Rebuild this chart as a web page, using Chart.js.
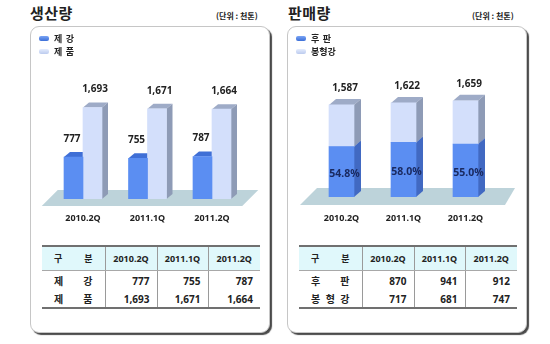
<!DOCTYPE html>
<html>
<head>
<meta charset="utf-8">
<script src="https://cdn.jsdelivr.net/npm/chart.js@4.4.0/dist/chart.umd.min.js"></script>
<style>
  body { margin:0; width:550px; height:344px; background:#fff; position:relative; overflow:hidden;
         font-family:"Noto Sans CJK KR","Noto Sans",sans-serif; color:#222; }
  .title { position:absolute; top:4px; font-size:15px; font-weight:700; line-height:18px; letter-spacing:0.5px; }
  .unit { position:absolute; top:11px; font-size:8px; font-weight:700; line-height:10px; }
  .box { position:absolute; top:26px; width:238px; height:305px; border:1px solid #c6c6c6; border-radius:9px;
         box-shadow:2px 2px 1px #4a4a4a; background:#fff; }
  canvas { position:absolute; top:26px; }
  .legend { position:absolute; top:32px; font-size:9px; font-weight:700; line-height:13px; }
  .legend div { display:flex; align-items:center; height:13px; }
  .sw { width:10px; height:5px; border-radius:2px; margin-right:5px; }
  .lab { display:inline-flex; justify-content:space-between; width:20px; }
  table { position:absolute; top:245px; border-collapse:collapse; table-layout:fixed; }
  td { padding:0; font-size:10px; font-weight:700; border-left:1px solid #9a9a9a; }
  td:first-child { border-left:none; }
  tr.head td { background:#e0f8fb; height:23px; text-align:center; font-size:9px;
               border-top:2px solid #707070; border-bottom:1px solid #a8a8a8; }
  tr.r1 td { height:19px; }
  tr.r2 td { height:17px; border-bottom:2px solid #707070; }
  td.num { text-align:right; padding-right:7px; font-family:"Noto Sans",sans-serif; }
  td.hdr { font-family:"Noto Sans",sans-serif; }
  .dist { display:flex; justify-content:space-between; padding:0 12px 0 12px; }
</style>
</head>
<body>
<div class="title" style="left:30px;">생산량</div>
<div class="unit" style="left:216px;">(단위 : 천톤)</div>
<div class="title" style="left:288px;">판매량</div>
<div class="unit" style="left:472px;">(단위 : 천톤)</div>

<div class="box" style="left:30px;"></div>
<div class="box" style="left:287px;"></div>

<canvas id="prod" width="240" height="210" style="left:30px;"></canvas>
<canvas id="sales" width="241" height="210" style="left:287px;"></canvas>

<div class="legend" id="prodLegend" style="left:39px;"></div>
<div class="legend" id="salesLegend" style="left:296px;"></div>

<table id="prodTable" style="left:42px; width:218px;"></table>
<table id="salesTable" style="left:299px; width:218px;"></table>

<script>
// Quarterly figures, thousand tons
const categories = ['2010.2Q', '2011.1Q', '2011.2Q'];
const steelMaking = [777, 755, 787];     // 제강
const products = [1693, 1671, 1664];     // 제품
const heavyPlate = [870, 941, 912];      // 후판
const sections = [717, 681, 747];        // 봉형강
const prodSeriesNames = ['제 강', '제 품'];
const salesSeriesNames = ['후 판', '봉형강'];

const darkBlue = { front: '#5b8ef2', top: '#3f6fd6', side: '#4169c2' };
const paleBlue = { front: '#d3dffb', top: '#9eabc7', side: '#8e9bb6' };

const fmt = v => v.toLocaleString('en-US');

// Draws floor, top faces and side faces behind the library's front faces
const bar3d = {
  id: 'bar3d',
  beforeDatasetsDraw(chart, args, opts) {
    const ctx = chart.ctx, a = chart.chartArea, f = opts.floor;
    const dx = opts.dx, dy = opts.dy;
    ctx.save();
    ctx.fillStyle = opts.floorColor;
    ctx.beginPath();
    ctx.moveTo(a.left + f.frontLeft, a.bottom + f.front);
    ctx.lineTo(a.left + f.backLeft, a.bottom - f.back);
    ctx.lineTo(a.right + f.backRight, a.bottom - f.back);
    ctx.lineTo(a.right + f.frontRight, a.bottom + f.front);
    ctx.closePath();
    ctx.fill();
    const sets = chart.data.datasets.map((ds, i) => ({ ds, els: chart.getDatasetMeta(i).data }));
    sets.forEach(({ ds, els }) => els.forEach(el => {
      const p = el.getProps(['x', 'y', 'width'], true);
      const l = p.x - p.width / 2, r = p.x + p.width / 2;
      ctx.fillStyle = ds.topColor;
      ctx.beginPath();
      ctx.moveTo(l, p.y); ctx.lineTo(l + dx, p.y - dy); ctx.lineTo(r + dx, p.y - dy); ctx.lineTo(r, p.y);
      ctx.closePath(); ctx.fill();
    }));
    sets.forEach(({ ds, els }) => els.forEach(el => {
      const p = el.getProps(['x', 'y', 'width', 'base'], true);
      const r = p.x + p.width / 2;
      ctx.fillStyle = ds.sideColor;
      ctx.beginPath();
      ctx.moveTo(r, p.y); ctx.lineTo(r + dx, p.y - dy); ctx.lineTo(r + dx, p.base - dy); ctx.lineTo(r, p.base);
      ctx.closePath(); ctx.fill();
    }));
    ctx.restore();
  }
};

const xAxis = (pad, h) => ({
  grid: { display: false, drawTicks: false },
  border: { display: false },
  ticks: { color: '#222', padding: pad, maxRotation: 0, autoSkip: false,
           font: { family: 'Noto Sans', size: 9, weight: 'bold' } },
  afterFit(scale) { scale.height = h; }
});

// Production: grouped bars
new Chart(document.getElementById('prod'), {
  type: 'bar',
  data: {
    labels: categories,
    datasets: [
      { label: prodSeriesNames[0], data: steelMaking, backgroundColor: darkBlue.front,
        topColor: darkBlue.top, sideColor: darkBlue.side, barThickness: 19 },
      { label: prodSeriesNames[1], data: products, backgroundColor: paleBlue.front,
        topColor: paleBlue.top, sideColor: paleBlue.side, barThickness: 19 }
    ]
  },
  options: {
    responsive: false, animation: false,
    layout: { padding: { left: 20.75, right: 25.75, top: 38, bottom: 0 } },
    plugins: {
      legend: { display: false }, tooltip: { enabled: false },
      bar3d: { dx: 6, dy: 5, floorColor: '#bdd3da',
               floor: { front: 7, back: 9, frontLeft: -9, backLeft: 7, backRight: 14, frontRight: -2 } }
    },
    scales: { x: xAxis(14, 37), y: { display: false, min: 0, max: 2500 } }
  },
  plugins: [bar3d, {
    id: 'prodValues',
    afterDatasetsDraw(chart) {
      const ctx = chart.ctx;
      ctx.save();
      ctx.font = 'bold 10px "Noto Sans"';
      ctx.fillStyle = '#222';
      ctx.textAlign = 'center';
      ctx.textBaseline = 'middle';
      chart.data.datasets.forEach((ds, i) => {
        chart.getDatasetMeta(i).data.forEach((el, j) => {
          ctx.fillText(fmt(ds.data[j]), el.x + (i === 1 ? 2.5 : -1.5), el.y - 18);
        });
      });
      ctx.restore();
    }
  }]
});

// Sales: stacked bars with share of heavy plate
new Chart(document.getElementById('sales'), {
  type: 'bar',
  data: {
    labels: categories,
    datasets: [
      { label: salesSeriesNames[0], data: heavyPlate, backgroundColor: darkBlue.front,
        topColor: darkBlue.top, sideColor: darkBlue.side, barThickness: 25 },
      { label: salesSeriesNames[1], data: sections, backgroundColor: paleBlue.front,
        topColor: paleBlue.top, sideColor: paleBlue.side, barThickness: 25 }
    ]
  },
  options: {
    responsive: false, animation: false,
    layout: { padding: { left: 23.5, right: 31.5, top: 26, bottom: 0 } },
    plugins: {
      legend: { display: false }, tooltip: { enabled: false },
      bar3d: { dx: 7, dy: 6, floorColor: '#bdd3da',
               floor: { front: 8, back: 9, frontLeft: -10.5, backLeft: 6.5, backRight: 18.5, frontRight: 8.5 } }
    },
    scales: { x: Object.assign(xAxis(16, 39), { stacked: true }),
              y: { display: false, stacked: true, min: 0, max: 2500 } }
  },
  plugins: [bar3d, {
    id: 'salesValues',
    afterDatasetsDraw(chart) {
      const ctx = chart.ctx;
      const lower = chart.getDatasetMeta(0).data, upper = chart.getDatasetMeta(1).data;
      ctx.save();
      ctx.textAlign = 'center';
      ctx.textBaseline = 'middle';
      categories.forEach((c, j) => {
        const total = heavyPlate[j] + sections[j];
        ctx.font = 'bold 10px "Noto Sans"';
        ctx.fillStyle = '#222';
        ctx.fillText(fmt(total), upper[j].x + 3.5, upper[j].y - 17);
        const share = (heavyPlate[j] / total * 100).toFixed(1) + '%';
        ctx.font = 'bold 10.5px "Noto Sans"';
        ctx.fillStyle = '#1a2a60';
        ctx.fillText(share, lower[j].x + 3, (lower[j].y + lower[j].base) / 2 + 2);
      });
      ctx.restore();
    }
  }]
});

// Legends
function buildLegend(id, names) {
  const el = document.getElementById(id);
  const fills = ['linear-gradient(#7aa4f4,#3c6fd8)', 'linear-gradient(#e4ecfd,#bccbee)'];
  names.forEach((n, i) => {
    const row = document.createElement('div');
    const chars = n.replace(/ /g, '').split('');
    row.innerHTML = '<span class="sw" style="background:' + fills[i] + '"></span>' +
      '<span class="lab">' + chars.map(ch => '<span>' + ch + '</span>').join('') + '</span>';
    el.appendChild(row);
  });
}
buildLegend('prodLegend', prodSeriesNames);
buildLegend('salesLegend', salesSeriesNames);

// Tables
function distributed(text) {
  return '<div class="dist">' + text.replace(/ /g, '').split('').map(ch => '<span>' + ch + '</span>').join('') + '</div>';
}
function buildTable(id, names, series) {
  const t = document.getElementById(id);
  let html = '<colgroup><col style="width:63px"><col style="width:52px"><col style="width:51px"><col style="width:52px"></colgroup>';
  html += '<tr class="head"><td>' + distributed('구 분') + '</td>' +
          categories.map(c => '<td class="hdr">' + c + '</td>').join('') + '</tr>';
  series.forEach((s, i) => {
    html += '<tr class="r' + (i + 1) + '"><td>' + distributed(names[i]) + '</td>' +
            s.map(v => '<td class="num">' + fmt(v) + '</td>').join('') + '</tr>';
  });
  t.innerHTML = html;
}
buildTable('prodTable', prodSeriesNames, [steelMaking, products]);
buildTable('salesTable', salesSeriesNames, [heavyPlate, sections]);
</script>
</body>
</html>
